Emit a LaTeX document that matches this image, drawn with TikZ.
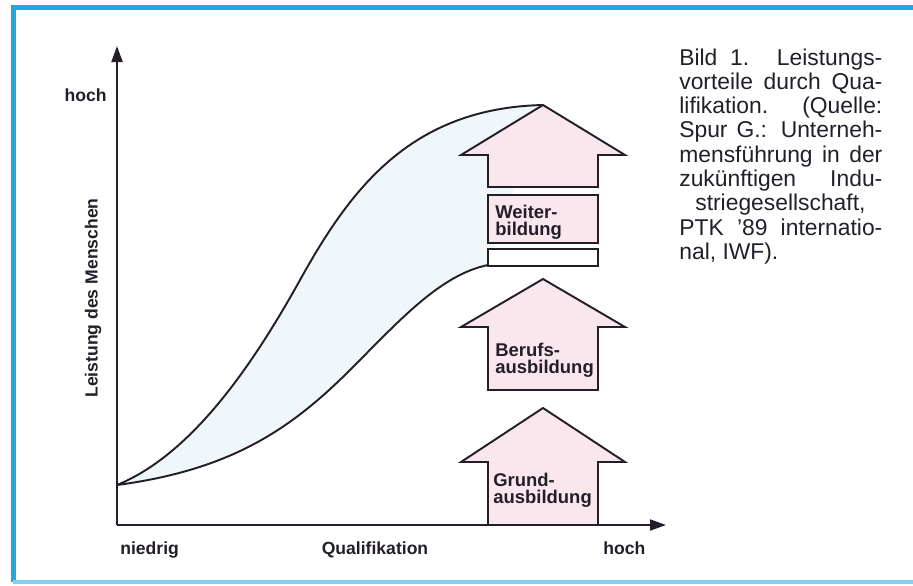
\documentclass[tikz,border=0pt]{standalone}
\usepackage{fontspec}
\setmainfont{Liberation Sans}
\usetikzlibrary{arrows.meta}
\definecolor{rahmen}{RGB}{35,168,222}
\definecolor{pfeilrosa}{RGB}{249,231,237}
\definecolor{band}{RGB}{239,247,251}
\definecolor{strich}{RGB}{35,30,40}
\tikzset{
  linie/.style={draw=strich,line width=1.1pt},
  stufenpfeil/.style={linie,fill=pfeilrosa,line join=miter},
  achse/.style={font=\bfseries\fontsize{10}{12}\selectfont,text=strich,inner sep=0pt},
  stufe/.style={font=\bfseries\fontsize{10.5}{9.7}\selectfont,text=strich,align=left,anchor=west,inner sep=0pt}
}
\begin{document}
\begin{tikzpicture}[x=0.2mm,y=-0.2mm]
\useasboundingbox (0,0) rectangle (913,585);
%frame
\draw[rahmen,line width=1mm] (913,7)--(13,7)--(13,582);
\draw[rahmen!55,line width=0.8mm] (13,582)--(913,582);
%axes points
\coordinate (O) at (117,525);
\coordinate (ytip) at (117,46);
\coordinate (xtip) at (666,525);
\coordinate (start) at (117,485);
\coordinate (top) at (543,105);
\coordinate (mid) at (488,265);
%band between the curves
\fill[band] (start)..controls(190,455)and(250,370)..(300,280)..controls(350,190)and(410,108)..(top)
  --(mid)..controls(440,275)and(400,320)..(350,370)..controls(290,430)and(230,470)..(start)--cycle;
\draw[linie] (start)..controls(190,455)and(250,370)..(300,280)..controls(350,190)and(410,108)..(top);
\draw[linie] (start)..controls(230,470)and(290,430)..(350,370)..controls(400,320)and(440,275)..(mid);
%arrows
\draw[stufenpfeil] (543,105)--(625,155)--(598,155)--(598,187)--(488,187)--(488,155)--(461,155)--cycle;
\draw[stufenpfeil] (488,195) rectangle (598,243);
\draw[linie,fill=white] (488,249) rectangle (598,266);
\draw[stufenpfeil] (543,279)--(625,327)--(598,327)--(598,390)--(488,390)--(488,327)--(461,327)--cycle;
\draw[stufenpfeil] (543,408)--(625,462)--(598,462)--(598,525)--(488,525)--(488,462)--(461,462)--cycle;
\node[stufe] (weiter) at (495,222) {Weiter-\\bildung};
\node[stufe] (beruf) at (495,360) {Berufs-\\ausbildung};
\node[stufe] (grund) at (493,490) {Grund-\\ausbildung};
%axes
\draw[linie,-{Triangle[length=3.2mm,width=2.2mm]}] (O)--(ytip);
\draw[linie,-{Triangle[length=3.2mm,width=2.2mm]}] (O)--(xtip);
%labels
\node[achse,anchor=base east] (yhoch) at (107,101) {hoch};
\node[achse,rotate=90] (leistung) at (93,298) {Leistung des Menschen};
\node[achse,anchor=base west] (niedrig) at (120,554) {niedrig};
\node[achse,anchor=base] (quali) at (375,554) {Qualifikation};
\node[achse,anchor=base west] (xhoch) at (603,554) {hoch};
%caption
\node[anchor=base west,inner sep=0pt,text=strich] (bild) at (679,65) {\parbox[t]{40.6mm}{\fontsize{13}{13.83}\selectfont
\makebox[\linewidth][s]{Bild 1. Leistungs-}\\
\makebox[\linewidth][s]{vorteile durch Qua-}\\
\makebox[\linewidth][s]{lifikation. (Quelle:}\\
\makebox[\linewidth][s]{Spur G.: Unterneh-}\\
\makebox[\linewidth][s]{mensführung in der}\\
\makebox[\linewidth][s]{zukünftigen Indu-}\\
\hspace*{3.2mm}striegesellschaft,\\
\makebox[\linewidth][s]{PTK ’89 internatio-}\\
nal, IWF).}};
\end{tikzpicture}
\end{document}
